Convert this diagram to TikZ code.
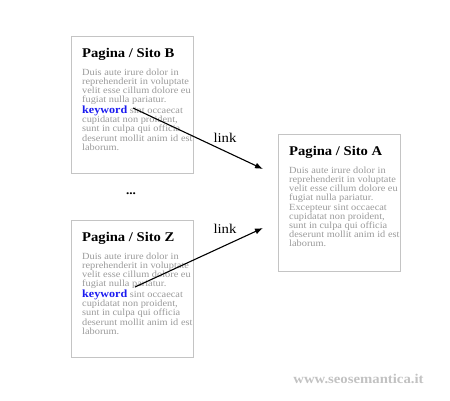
\documentclass[tikz,border=0pt]{standalone}
\usepackage{fontspec}
\setmainfont[FakeStretch=1.1]{Liberation Serif}
\usetikzlibrary{arrows.meta}
\definecolor{boxgray}{HTML}{C4C4C4}
\definecolor{bodygray}{HTML}{9A9A9A}
\definecolor{kwblue}{HTML}{1A1AF0}
\definecolor{wmgray}{HTML}{C2C2C2}
\begin{document}
\begin{tikzpicture}[x=1pt,y=-1pt,
  page/.style={draw=boxgray, line width=0.8pt, minimum width=122pt, minimum height=137pt, inner sep=0pt, anchor=north west},
  title/.style={anchor=base west, inner sep=0pt, font=\fontsize{13.3}{15}\selectfont\bfseries},
  body/.style={anchor=north west, inner sep=0pt, align=left, text=bodygray, font=\fontsize{9.4}{9.2}\selectfont},
  kw/.style={},
  linklabel/.style={inner sep=0pt, font=\fontsize{13.4}{15}\selectfont},
  linkarrow/.style={line width=1.1pt, -{Latex[length=8pt,width=6pt]}}
]
\useasboundingbox (0,0) rectangle (450,400);
% boxes
\node[page] (boxB) at (71,36) {};
\node[page] (boxZ) at (71,220) {};
\node[page] (boxA) at (278,134) {};
% titles
\node[title] (tB) at (82,57) {Pagina / Sito B};
\node[title] (tZ) at (82,241) {Pagina / Sito Z};
\node[title] (tA) at (289,155) {Pagina / Sito A};
% bodies
\node[body] (bB) at (82,68.5) {Duis aute irure dolor in\\reprehenderit in voluptate\\velit esse cillum dolore eu\\fugiat nulla pariatur.\\{\color{kwblue}\bfseries\fontsize{11}{9.2}\selectfont keyword} sint occaecat\\cupidatat non proident,\\sunt in culpa qui officia\\deserunt mollit anim id est\\laborum.};
\node[body] (bZ) at (82,252.5) {Duis aute irure dolor in\\reprehenderit in voluptate\\velit esse cillum dolore eu\\fugiat nulla pariatur.\\{\color{kwblue}\bfseries\fontsize{11}{9.2}\selectfont keyword} sint occaecat\\cupidatat non proident,\\sunt in culpa qui officia\\deserunt mollit anim id est\\laborum.};
\node[body] (bA) at (289,166.5) {Duis aute irure dolor in\\reprehenderit in voluptate\\velit esse cillum dolore eu\\fugiat nulla pariatur.\\Excepteur sint occaecat\\cupidatat non proident,\\sunt in culpa qui officia\\deserunt mollit anim id est\\laborum.};
% dots
\node[inner sep=0pt, font=\fontsize{12}{14}\selectfont\bfseries] (dots) at (131,194) {...};
% link anchors
\coordinate (kB) at (133,108);
\coordinate (kZ) at (135,287);
\coordinate (inA1) at (263,169);
\coordinate (inA2) at (263,228);
\draw[linkarrow] (kB) -- (inA1);
\draw[linkarrow] (kZ) -- (inA2);
\node[linklabel] (l1) at (225,138) {link};
\node[linklabel] (l2) at (225,229) {link};
% watermark
\node[inner sep=0pt, text=wmgray, font=\fontsize{13.4}{15}\selectfont\bfseries] (wm) at (358.5,379) {www.seosemantica.it};
\end{tikzpicture}
\end{document}
